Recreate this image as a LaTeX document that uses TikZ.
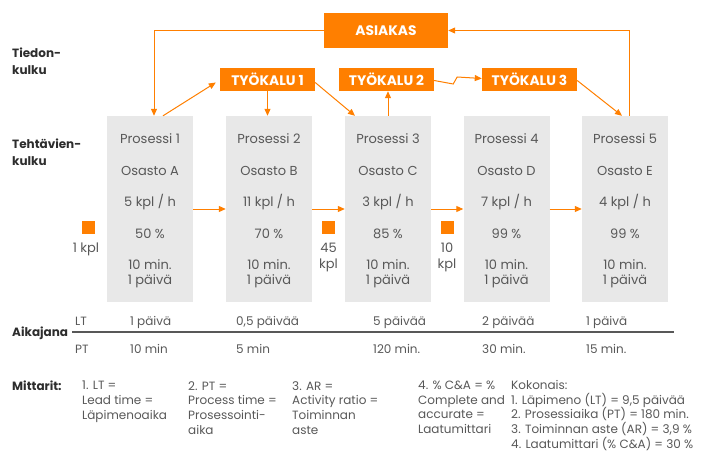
\documentclass[tikz,border=0pt]{standalone}
\usepackage{fontspec}
\setmainfont{Poppins}
\usetikzlibrary{arrows.meta, positioning}
\definecolor{vsmorange}{RGB}{255,127,0}
\definecolor{vsmgray}{RGB}{232,232,232}
\definecolor{vsmtext}{RGB}{88,88,88}
\definecolor{vsmdark}{RGB}{45,45,45}

\begin{document}
\begin{tikzpicture}[x=1pt,y=-1pt,
  every node/.style={font=\fontsize{12}{14}\selectfont,text=vsmtext},
  proc/.style={fill=vsmgray,minimum width=86pt,minimum height=186pt,inner sep=0pt},
  ptext/.style={anchor=north,align=center,inner sep=0pt,font=\fontsize{13}{15}\selectfont},
  tool/.style={fill=vsmorange,text=white,font=\fontsize{13.8}{14}\selectfont\bfseries,minimum width=95pt,minimum height=23pt,inner sep=0pt},
  stock/.style={fill=vsmorange,minimum size=13pt,inner sep=0pt},
  val/.style={anchor=base west,inner sep=0pt},
  head/.style={anchor=north west,align=left,inner sep=0pt,text=vsmdark,font=\fontsize{12}{17}\selectfont\bfseries},
  metric/.style={anchor=north west,align=left,inner sep=0pt,font=\fontsize{12}{14.8}\selectfont},
  info/.style={-{Triangle[length=7pt,width=6pt]},draw=vsmorange,line width=1pt}
]
\useasboundingbox (0,0) rectangle (713,455);
% customer and tools
\node[tool,minimum width=124pt,minimum height=35pt] (asiakas) at (386,30.5) {ASIAKAS};
\node[tool] (t1) at (267.5,79.5) {TYÖKALU 1};
\node[tool] (t2) at (386.5,79.5) {TYÖKALU 2};
\node[tool] (t3) at (529.5,79.5) {TYÖKALU 3};
% process boxes
\node[proc] (p1) at (150,209) {};
\node[proc] (p2) at (269,209) {};
\node[proc] (p3) at (388,209) {};
\node[proc] (p4) at (506.5,209) {};
\node[proc] (p5) at (625,209) {};
\node[ptext] (p1t) at (150,133) {Prosessi 1\\[17pt]Osasto A\\[16pt]5 kpl / h\\[17pt]50 \%\\[16pt]10 min.\\1 päivä};
\node[ptext] (p2t) at (269,133) {Prosessi 2\\[17pt]Osasto B\\[16pt]11 kpl / h\\[17pt]70 \%\\[16pt]10 min.\\1 päivä};
\node[ptext] (p3t) at (388,133) {Prosessi 3\\[17pt]Osasto C\\[16pt]3 kpl / h\\[17pt]85 \%\\[16pt]10 min.\\1 päivä};
\node[ptext] (p4t) at (506.5,133) {Prosessi 4\\[17pt]Osasto D\\[16pt]7 kpl / h\\[17pt]99 \%\\[16pt]10 min.\\1 päivä};
\node[ptext] (p5t) at (625,133) {Prosessi 5\\[17pt]Osasto E\\[16pt]4 kpl / h\\[17pt]99 \%\\[16pt]10 min.\\1 päivä};
% stocks
\node[stock] (s1) at (88.5,227) {};
\node[stock] (s2) at (328.5,227) {};
\node[stock] (s3) at (447,227) {};
\node[ptext] (s1t) at (86,243) {1 kpl};
\node[ptext] (s2t) at (328.5,243) {45\\[1pt]kpl};
\node[ptext] (s3t) at (447,243) {10\\[1pt]kpl};
% information flow
\draw[info] (asiakas.west) -| ([xshift=4pt]p1.north);
\draw[info] ([xshift=4pt]p5.north) |- (asiakas.east);
\draw[info] ([xshift=13pt]p1.north) -- ([xshift=-4pt,yshift=-3pt]t1.west);
\draw[info] (t1.south) -- (t1.south |- p2.north);
\draw[info] ([yshift=-3pt]t1.east) -- ([xshift=-33pt]p3.north);
\draw[info] (p3.north) -- (p3.north |- t2.south);
\draw[info] ([yshift=-1pt]t2.east) -- ++(19,3.5) -- ++(4,-7) -- ([yshift=1pt]t3.west);
\draw[info] ([yshift=-1pt]t3.east) -- ([xshift=-3pt]p5.north);
% material flow
\draw[info] (p1) -- (p2);
\draw[info] (p2) -- (p3);
\draw[info] (p3) -- (p4);
\draw[info] (p4) -- (p5);
% row labels
\node[head] (tiedon) at (12,48) {Tiedon-\\kulku};
\node[head] (tehtava) at (12,139) {Tehtävien-\\kulku};
\node[head,anchor=base west] (aika) at (12,336.5) {Aikajana};
% timeline
\coordinate (tl0) at (72,332);
\coordinate (tl1) at (674,332);
\draw[vsmtext,line width=1.5pt] (tl0) -- (tl1);
\node[val] (lt) at (75,325.5) {LT};
\node[val] (pt) at (75,353.5) {PT};
\node[val] (lt1) at (130,325.5) {1 päivä};
\node[val] (lt2) at (236,325.5) {0,5 päivää};
\node[val] (lt3) at (373,325.5) {5 päivää};
\node[val] (lt4) at (482,325.5) {2 päivää};
\node[val] (lt5) at (586,325.5) {1 päivä};
\node[val] (pt1) at (130,353.5) {10 min};
\node[val] (pt2) at (236,353.5) {5 min};
\node[val] (pt3) at (373,353.5) {120 min.};
\node[val] (pt4) at (482,353.5) {30 min.};
\node[val] (pt5) at (586,353.5) {15 min.};
% metrics
\node[head] (mittarit) at (12,380.5) {Mittarit:};
\node[metric] (m1) at (82,381) {1. LT =\\Lead time =\\Läpimenoaika};
\node[metric] (m2) at (188,381) {2. PT =\\Process time =\\Prosessointi-\\aika};
\node[metric] (m3) at (292,381) {3. AR =\\Activity ratio =\\Toiminnan\\aste};
\node[metric] (m4) at (418,380.5) {4. \% C\&A = \%\\Complete and\\accurate =\\Laatumittari};
\node[metric] (m5) at (511,380) {Kokonais:\\1. Läpimeno (LT) = 9,5 päivää\\2. Prosessiaika (PT) = 180 min.\\3. Toiminnan aste (AR) = 3,9 \%\\4. Laatumittari (\% C\&A) = 30 \%};
\end{tikzpicture}
\end{document}
